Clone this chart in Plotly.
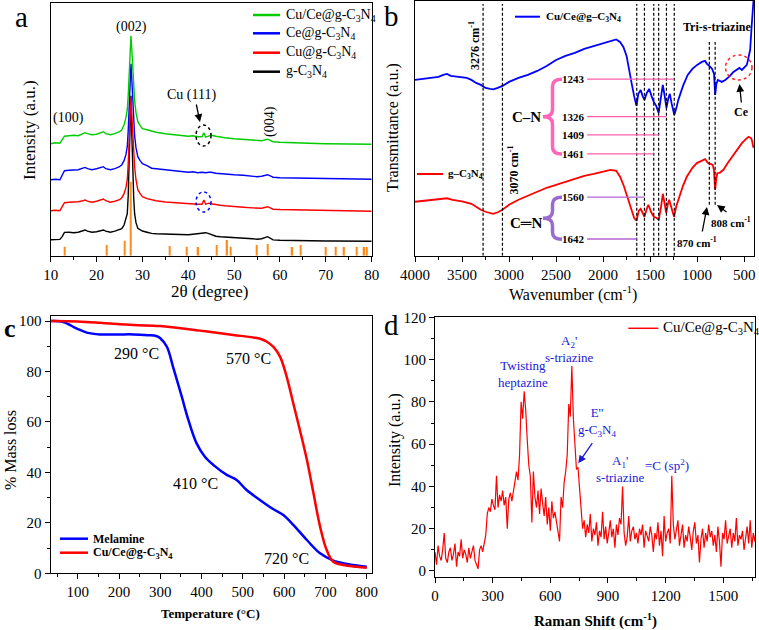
import plotly.graph_objects as go

W, H = 759, 630
FONT = "Liberation Serif"

# ---------------- (a) XRD ----------------
xrd_2theta = [10, 11, 12, 12.5, 13, 14, 15, 16, 17, 17.5, 18, 19, 20, 21, 21.5, 22, 23, 24, 25, 25.5,
              26, 26.4, 26.7, 26.9, 27.1, 27.3, 27.5, 27.7, 27.9, 28.1, 28.3, 28.6, 29, 29.5, 30, 31,
              32, 33, 35, 37, 39, 40, 41, 42, 43, 43.4, 43.8, 44.5, 45, 46, 47, 48, 50, 52, 54, 55,
              56, 57.3, 58, 58.5, 60, 62, 65, 68, 70, 72, 75, 78, 80]
xrd_cuce = [112, 113, 112.5, 116, 119.5, 120, 120.5, 120, 122, 123, 122, 121, 121.5, 123, 124, 122, 121, 122, 124, 126,
            131, 138, 146, 160, 182, 205, 220, 205, 188, 170, 155, 143, 134, 130, 127, 126,
            124.5, 123.5, 122, 121, 120, 119.5, 120, 119, 119, 123, 118.5, 120, 120.5, 119.5, 118.5, 118, 117, 116.5, 115.5, 115,
            115, 116.5, 115, 114, 113.5, 113, 112.5, 112.2, 112, 112, 111.8, 111.7, 111.5]
xrd_ce = [76, 76.5, 76, 80, 85, 85.5, 85.5, 86, 87.5, 88.3, 87, 86, 87, 88, 89, 87, 86, 87, 89, 91,
          95, 101, 109, 125, 146, 175, 192, 175, 156, 136, 120, 108, 99, 95, 92, 90,
          87.5, 87, 86, 85, 84, 83.5, 84, 83, 83.5, 83, 83, 83.5, 83.5, 82.5, 82, 81.5, 81, 80.5, 79.5, 79,
          79.5, 81, 79.5, 78.5, 78, 77.8, 77.5, 77.2, 77, 77, 76.8, 76.7, 76.5]
xrd_cu = [45, 45.5, 45, 49, 53, 53.5, 53.5, 54, 55, 55.7, 54.5, 53.5, 54.5, 55.5, 56.7, 55, 53.5, 54.5, 56, 58,
          62, 68, 76, 92, 116, 145, 159, 140, 122, 104, 89, 76, 66, 62, 59, 57,
          55.7, 55, 53.7, 53, 52.2, 51.7, 52, 51.5, 51.5, 55.7, 51.5, 52.5, 52, 51, 50.5, 50, 49, 48.5, 47.8, 47.3,
          47.5, 49, 47.5, 46.5, 46.2, 46, 45.7, 45.3, 45, 45, 44.8, 44.7, 44.5]
xrd_gcn = [16, 16.5, 16.3, 19, 23.3, 23.5, 23, 23.5, 25, 25.7, 24.5, 23.5, 24, 25, 25.7, 24.5, 23.5, 24.5, 25.7, 27,
           30.7, 36, 42, 60, 89, 135, 160, 120, 82, 58, 42, 33, 27.3, 26, 24.7, 23.5,
           22.3, 22, 21.5, 21, 21, 21, 21.5, 22, 22.5, 23, 23, 22, 21, 19.5, 19, 18.8, 18.3, 17.8, 17, 16.5,
           17, 19, 17, 15.8, 15.5, 15.2, 15, 14.8, 14.7, 14.7, 14.6, 14.5, 14.5]
ref_2theta = [13.1, 22.2, 26.2, 27.4, 36.0, 39.7, 42.2, 46.2, 48.5, 49.2, 55.0, 57.4, 62.7, 64.5, 70.0,
              72.2, 74.0, 76.7, 78.4, 79.0]
ref_height = [9, 10.7, 15, 74, 9.7, 9, 8.7, 10.7, 15.7, 9, 10.7, 11.7, 8.7, 10.7, 8.7,
              9, 8.7, 9, 8.7, 8.7]

# ---------------- (b) FTIR ----------------
ftir_wn_cuce = [4000, 3900, 3800, 3750, 3700, 3660, 3620, 3550, 3500, 3450, 3400, 3350, 3300, 3250, 3200, 3167,
                3120, 3070, 3000, 2900, 2800, 2700, 2600, 2500, 2400, 2300, 2200, 2100, 2000, 1950, 1900, 1860,
                1820, 1784, 1750, 1731, 1710, 1695, 1670, 1645, 1625, 1600, 1580, 1560, 1535, 1510, 1485, 1461,
                1435, 1409, 1390, 1365, 1345, 1326, 1305, 1290, 1270, 1243, 1220, 1200, 1150, 1100, 1050, 1000,
                950, 915, 895, 880, 860, 840, 820, 808, 795, 780, 760, 737, 700, 650, 614, 580, 550, 524, 500,
                471, 450, 436, 420, 410, 400]
ftir_t_cuce = [176, 177, 178, 179, 181, 182, 180, 179, 178.5, 178, 176, 173, 171, 168, 167, 166.5,
               168, 170, 174, 178, 181, 185, 190, 196, 200, 203, 207, 210, 213, 214, 216, 216.5,
               214, 209, 200, 189, 180, 172, 160, 150, 162, 166, 160, 156, 163, 167, 160, 154,
               150, 143, 155, 171, 160, 148, 158, 162, 152, 141, 148, 156, 170, 181, 187, 191,
               194, 195, 192, 191, 189, 187, 182, 161, 172, 176, 175, 174, 176, 180, 184, 186, 188, 186, 188,
               191, 200, 206, 230, 245, 256]
ftir_wn_gcn = [4000, 3900, 3800, 3700, 3660, 3600, 3500, 3400, 3300, 3250, 3200, 3170, 3120, 3070, 3000, 2900,
               2800, 2700, 2600, 2500, 2400, 2300, 2200, 2100, 2000, 1920, 1860, 1819, 1780, 1731, 1700, 1670,
               1645, 1620, 1600, 1580, 1560, 1535, 1518, 1490, 1461, 1435, 1408, 1385, 1365, 1345, 1329, 1310,
               1297, 1270, 1245, 1220, 1180, 1150, 1110, 1050, 1003, 950, 915, 895, 880, 860, 833, 820, 809,
               795, 784, 760, 720, 680, 614, 570, 524, 490, 453, 430, 418, 405, 400]
ftir_t_gcn = [54, 55, 56, 57, 57.5, 56, 54.5, 52, 46, 44, 43, 42, 43.5, 46, 51, 56,
              60, 64, 68, 71, 74, 77, 80, 82, 84.5, 86, 85, 79, 70, 56, 45, 38,
              35, 45, 47, 42, 39, 47, 51, 44, 39, 38, 36, 48, 62, 52, 43, 52,
              56, 47, 39, 50, 62.7, 70, 79, 88, 92.7, 95.5, 96.7, 94, 92.7, 92, 91, 85, 66,
              78, 82.7, 83, 86, 92, 101, 107, 112.7, 116, 119, 118, 116, 110, 108]
band_wn = [3276, 3070, 1642, 1560, 1461, 1409, 1326, 1243]
triazine_wn = [870, 808]
cn_labels = ["1243", "1326", "1409", "1461"]
cn_level = [176.7, 139.3, 121, 102]
cdn_labels = ["1560", "1642"]
cdn_level = [58.7, 16.7]

# ---------------- (c) TGA ----------------
tga_t_mel = [35, 41, 65, 98, 122, 154, 200, 235, 270, 290, 300, 316, 332, 352, 368, 388, 408, 429, 461, 485,
             509, 542, 574, 598, 622, 655, 687, 719, 752, 780, 800]
tga_m_mel = [100, 100, 99.6, 97, 95.4, 94.7, 94.7, 94.7, 94.4, 94.1, 93.2, 89.8, 81.2, 70, 60.8, 51.5, 46.2, 42.9, 39, 37,
             33, 29, 25.4, 23.1, 19.2, 13.2, 7.9, 5, 3.7, 3.0, 2.6]
tga_t_cuce = [35, 41, 100, 154, 235, 299, 396, 477, 525, 542, 558, 574, 590, 606, 622, 638, 655, 671, 687, 703,
              719, 743, 776, 800]
tga_m_cuce = [100, 100, 99.8, 99.3, 98.4, 98, 96.2, 94.5, 93.5, 93, 91.8, 89.8, 85.9, 78, 67.4, 56.8, 45, 31.7, 18.5, 9.2,
              4.6, 3.3, 2.6, 2.2]

# ---------------- (d) Raman ----------------
raman_shift = [0, 8, 16, 24, 32, 40, 48, 56, 64, 72, 80, 88, 96, 104, 112, 120, 128, 136, 144, 152,
               160, 168, 176, 184, 192, 200, 208, 216, 224, 232, 240, 248, 256, 264, 272, 280, 288, 296, 304, 312,
               320, 328, 336, 344, 352, 360, 368, 376, 384, 392, 400, 408, 416, 424, 432, 440, 448, 456, 464, 472,
               480, 488, 496, 504, 512, 520, 528, 536, 544, 552, 560, 568, 576, 584, 592, 600, 608, 616, 624, 632,
               640, 648, 656, 664, 672, 680, 688, 696, 704, 712, 720, 728, 736, 744, 752, 760, 768, 776, 784, 792,
               800, 808, 816, 824, 832, 840, 848, 856, 864, 872, 880, 888, 896, 904, 912, 920, 928, 936, 944, 952,
               960, 968, 976, 984, 992, 1000, 1008, 1016, 1024, 1032, 1040, 1048, 1056, 1064, 1072, 1080, 1088, 1096, 1104, 1112,
               1120, 1128, 1136, 1144, 1152, 1160, 1168, 1176, 1184, 1192, 1200, 1208, 1216, 1224, 1232, 1240, 1248, 1256, 1264, 1272,
               1280, 1288, 1296, 1304, 1312, 1320, 1328, 1336, 1344, 1352, 1360, 1368, 1376, 1384, 1392, 1400, 1408, 1416, 1424, 1432,
               1440, 1448, 1456, 1464, 1472, 1480, 1488, 1496, 1504, 1512, 1520, 1528, 1536, 1544, 1552, 1560, 1568, 1576, 1584, 1592,
               1600, 1608, 1616, 1624, 1632, 1640, 1648, 1656, 1664, 1672, 1680]
raman_int = [9, 3, 12, 7, 5, 10, 18, 6, 4, 9, 11, 5, 8, 13, 2, 9, 7, 15, 6, 10,
             8, 4, 11, 6, 9, 12, 5, 3, 1, 10, 12, 9, 14, 17, 27, 30, 28, 34, 31, 29,
             45, 30, 36, 33, 38, 31, 35, 20, 34, 37, 33, 38, 42, 47, 43, 55, 80, 72, 85, 76,
             62, 50, 45, 23, 47, 35, 30, 38, 27, 39, 32, 26, 35, 22, 30, 19, 33, 25, 28, 23,
             18, 14, 35, 30, 42, 47, 55, 79, 73, 97, 72, 58, 48, 49, 38, 30, 20, 24, 16, 22,
             18, 27, 14, 20, 17, 23, 12, 19, 16, 28, 15, 21, 13, 18, 24, 16, 20, 11, 22, 17,
             25, 22, 40, 18, 12, 16, 26, 14, 19, 21, 15, 18, 13, 20, 17, 22, 11, 19, 16, 14,
             21, 17, 9, 18, 15, 23, 12, 19, 7, 26, 14, 18, 20, 13, 45, 22, 15, 19, 24, 12,
             18, 22, 11, 17, 14, 21, 16, 10, 19, 23, 13, 17, 4, 15, 20, 11, 18, 14, 22, 16,
             19, 12, 17, 9, 21, 14, 2, 18, 15, 24, 13, 16, 20, 11, 18, 14, 25, 12, 17, 15,
             19, 10, 16, 21, 13, 24, 11, 18, 14, 20, 9]


def px(x):
    return x / W


def py(y):
    return 1 - y / H


fig = go.Figure()

# (a)
fig.add_trace(go.Bar(x=ref_2theta, y=ref_height, width=0.3, marker_color="#ff8c1a",
                     marker_line_width=0, xaxis="x", yaxis="y"))
for yy, col in [(xrd_gcn, "black"), (xrd_cu, "#ff0000"), (xrd_ce, "#0000ff"), (xrd_cuce, "#00cc00")]:
    fig.add_trace(go.Scatter(x=xrd_2theta, y=yy, mode="lines", line=dict(color=col, width=1.4),
                             xaxis="x", yaxis="y"))

# (b)
fig.add_trace(go.Scatter(x=ftir_wn_cuce, y=ftir_t_cuce, mode="lines", line=dict(color="#0000ff", width=1.8),
                         xaxis="x2", yaxis="y2"))
fig.add_trace(go.Scatter(x=ftir_wn_gcn, y=ftir_t_gcn, mode="lines", line=dict(color="#ff0000", width=1.8),
                         xaxis="x2", yaxis="y2"))

# (c)
fig.add_trace(go.Scatter(x=tga_t_mel, y=tga_m_mel, mode="lines", line=dict(color="#0000ff", width=2.5, shape="spline"),
                         xaxis="x3", yaxis="y3"))
fig.add_trace(go.Scatter(x=tga_t_cuce, y=tga_m_cuce, mode="lines", line=dict(color="#ff0000", width=2.5, shape="spline"),
                         xaxis="x3", yaxis="y3"))

# (d)
fig.add_trace(go.Scatter(x=raman_shift, y=raman_int, mode="lines", line=dict(color="#ff0000", width=1.2),
                         xaxis="x4", yaxis="y4"))

axis_common = dict(showline=True, linecolor="black", linewidth=1.2, mirror=True, showgrid=False,
                   zeroline=False, ticks="outside", ticklen=5, tickwidth=1, tickcolor="black",
                   automargin=False, tickfont=dict(family=FONT, size=15, color="black"))
noticks = dict(showline=True, linecolor="black", linewidth=1.2, mirror=True, showgrid=False,
               zeroline=False, ticks="", showticklabels=False, automargin=False)


def minor(d):
    return dict(ticks="outside", ticklen=3, tickcolor="black", dtick=d, showgrid=False)


fig.update_layout(
    width=W, height=H, margin=dict(l=0, r=0, t=0, b=0, pad=0, autoexpand=False),
    paper_bgcolor="white", plot_bgcolor="white", showlegend=False,
    font=dict(family=FONT, color="black"),
    xaxis=dict(axis_common, domain=[px(50.7), px(371.7)], range=[10, 80], tick0=10, dtick=10,
               minor=minor(5), anchor="y"),
    yaxis=dict(noticks, domain=[py(255.7), py(3)], range=[0, 252.7], anchor="x"),
    xaxis2=dict(axis_common, domain=[px(415), px(754)], range=[4000, 395], tick0=500, dtick=500,
                minor=minor(250), anchor="y2"),
    yaxis2=dict(noticks, domain=[py(255.7), py(1)], range=[0, 255], anchor="x2"),
    xaxis3=dict(axis_common, domain=[px(50.7), px(371.7)], range=[34.6, 812], tick0=100, dtick=100,
                minor=minor(50), anchor="y3"),
    yaxis3=dict(axis_common, domain=[py(573.3), py(316)], range=[0, 102], dtick=20,
                minor=minor(10), anchor="x3"),
    xaxis4=dict(axis_common, domain=[px(435), px(755)], range=[0, 1665], tick0=0, dtick=300,
                minor=minor(150), anchor="y4"),
    yaxis4=dict(axis_common, domain=[py(576.7), py(317.3)], range=[-2.7, 120], dtick=20,
                minor=minor(10), anchor="x4"),
)

ann = []
shapes = []


def text(x, y, t, size=15, bold=False, color="black", angle=0, xanchor="center"):
    if bold:
        t = "<b>" + t + "</b>"
    ann.append(dict(x=px(x), y=py(y), xref="paper", yref="paper", text=t, showarrow=False,
                    font=dict(family=FONT, size=size, color=color), textangle=angle,
                    xanchor=xanchor, yanchor="middle"))


def arrow(x, y, ax, ay, color="black"):
    ann.append(dict(x=px(x), y=py(y), xref="paper", yref="paper", text="", showarrow=True,
                    ax=ax, ay=ay, arrowhead=2, arrowsize=1.2, arrowwidth=1.3, arrowcolor=color))


def legend_line(x0, x1, y, color, width=2.5):
    shapes.append(dict(type="line", xref="paper", yref="paper", x0=px(x0), x1=px(x1), y0=py(y), y1=py(y),
                       line=dict(color=color, width=width)))


def ellipse(x0, x1, y0, y1, color, dash="dot"):
    shapes.append(dict(type="circle", xref="paper", yref="paper", x0=px(x0), x1=px(x1), y0=py(y1), y1=py(y0),
                       line=dict(color=color, width=1.5, dash=dash)))


def brace(xtip, xr, y0, y1, color):
    xm = (xtip + xr) / 2
    ym = (y0 + y1) / 2
    pts = [("M", xr, y0), ("Q", xm, y0), ("", xm, y0 + 7), ("L", xm, ym - 7), ("Q", xm, ym), ("", xtip, ym),
           ("Q", xm, ym), ("", xm, ym + 7), ("L", xm, y1 - 7), ("Q", xm, y1), ("", xr, y1)]
    path = " ".join(f"{c} {px(a):.5f},{py(b):.5f}" if c else f"{px(a):.5f},{py(b):.5f}" for c, a, b in pts)
    shapes.append(dict(type="path", xref="paper", yref="paper", path=path,
                       line=dict(color=color, width=3.5)))


# ---- panel labels
text(21, 17, "a", size=29)
text(391, 16, "b", size=29)
text(10, 328, "c", size=26, bold=True)
text(391, 325, "d", size=29)

# ---- (a) annotations
text(210, 291, "2θ (degree)", size=17)
text(30, 130, "Intensity (a.u.)", size=17, angle=-90)
text(131.7, 27, "(002)", size=14)
text(68.3, 118, "(100)", size=14)
text(191.7, 95, "Cu (111)", size=14)
text(269.3, 121.7, "(004)", size=14, angle=-90)
arrow(200, 122, -4, -19)
ellipse(196, 211, 125, 146, "black")
ellipse(196, 211, 192, 212, "#0000ff")
leg_a = [("Cu/Ce@g-C<sub>3</sub>N<sub>4</sub>", "#00cc00", 15), ("Ce@g-C<sub>3</sub>N<sub>4</sub>", "#0000ff", 33.3),
         ("Cu@g-C<sub>3</sub>N<sub>4</sub>", "#ff0000", 52.7), ("g-C<sub>3</sub>N<sub>4</sub>", "black", 71.7)]
for lab, col, yy in leg_a:
    legend_line(253, 280, yy, col)
    text(284, yy, lab, size=14, xanchor="left")

# ---- (b) annotations
text(573, 293, "Wavenumber (cm<sup>-1</sup>)", size=16)
text(393, 128, "Transmittance (a.u.)", size=16, angle=-90)
for wn in band_wn:
    shapes.append(dict(type="line", xref="x2", yref="y2", x0=wn, x1=wn, y0=0, y1=252,
                       line=dict(color="black", width=1.2, dash="3px,2px")))
for wn in triazine_wn:
    shapes.append(dict(type="line", xref="x2", yref="y2", x0=wn, x1=wn, y0=51, y1=214,
                       line=dict(color="black", width=1.2, dash="3px,2px")))
for lab, lev in zip(cn_labels, cn_level):
    shapes.append(dict(type="line", xref="x2", yref="y2", x0=2170, x1=float(lab), y0=lev, y1=lev,
                       line=dict(color="#ff5fae", width=1.3)))
    text(573.3, 256 - lev, lab, size=11, bold=True)
for lab, lev in zip(cdn_labels, cdn_level):
    shapes.append(dict(type="line", xref="x2", yref="y2", x0=2170, x1=float(lab), y0=lev, y1=lev,
                       line=dict(color="#b466d2", width=1.3)))
    text(573.3, 256 - lev, lab, size=11, bold=True)
brace(543, 562, 79.3, 154, "#ff66b8")
brace(543, 562, 197.3, 239.3, "#9a6ad0")
text(526, 116.7, "C–N", size=15, bold=True)
text(526, 222.7, "C═N", size=15, bold=True)
text(475, 46, "3276 cm<sup>-1</sup>", size=12, bold=True, angle=-90)
text(513.5, 170, "3070 cm<sup>-1</sup>", size=12, bold=True, angle=-90)
text(716.7, 27, "Tri-s-triazine", size=12, bold=True)
text(741.7, 111.7, "Ce", size=12, bold=True)
ellipse(725.5, 752, 55, 80, "#ff2020")
arrow(739.5, 84, 2, 20)
text(696.7, 241.7, "870 cm<sup>-1</sup>", size=11, bold=True)
arrow(707, 207, -5, 26)
text(731, 221.7, "808 cm<sup>-1</sup>", size=11, bold=True)
arrow(717, 205, 11, 8)
legend_line(515, 540, 16.7, "#0000ff", 2)
text(544, 16.7, "Cu/Ce@g–C<sub>3</sub>N<sub>4</sub>", size=11, bold=True, xanchor="left")
legend_line(417, 443, 174, "#ff0000", 2)
text(446, 174, "g–C<sub>3</sub>N<sub>4</sub>", size=11, bold=True, xanchor="left")

# ---- (c) annotations
text(210, 613, "Temperature (°C)", size=13, bold=True)
text(10, 450, "% Mass loss", size=16, angle=-90)
text(136.7, 353.3, "290 °C", size=16)
text(248.3, 358.3, "570 °C", size=16)
text(195, 483.3, "410 °C", size=16)
text(286, 558.3, "720 °C", size=16)
legend_line(60, 88, 538.7, "#0000ff", 2.5)
text(91, 538.7, "Melamine", size=12, bold=True, xanchor="left")
legend_line(60, 88, 552.7, "#ff0000", 2.5)
text(91, 552.7, "Cu/Ce@g-C<sub>3</sub>N<sub>4</sub>", size=12, bold=True, xanchor="left")

# ---- (d) annotations
BL = "#1a1ad6"
text(595, 620, "Raman Shift (cm<sup>-1</sup>)", size=15, bold=True)
text(395, 440, "Intensity (a.u.)", size=16, angle=-90)
text(522.7, 374, "Twisting<br>heptazine", size=13, color=BL)
text(569.3, 349, "A<sub>2</sub>'<br>s-triazine", size=13, color=BL)
text(596.7, 421.7, "E''<br>g-C<sub>3</sub>N<sub>4</sub>", size=13, color=BL)
arrow(578.3, 463.3, 15, -21.6, BL)
text(620, 469, "A<sub>1</sub>'<br>s-triazine", size=13, color=BL)
text(666.7, 465, "=C (sp<sup>2</sup>)", size=13, color=BL)
legend_line(628.3, 658.3, 328.3, "#ff0000", 1.5)
text(661, 328.3, "Cu/Ce@g-C<sub>3</sub>N<sub>4</sub>", size=15, xanchor="left")

fig.update_layout(annotations=ann, shapes=shapes)
fig.write_html("out.html", config={"displayModeBar": False},
               post_script="document.body.style.margin='0px';document.body.style.overflow='hidden';")
